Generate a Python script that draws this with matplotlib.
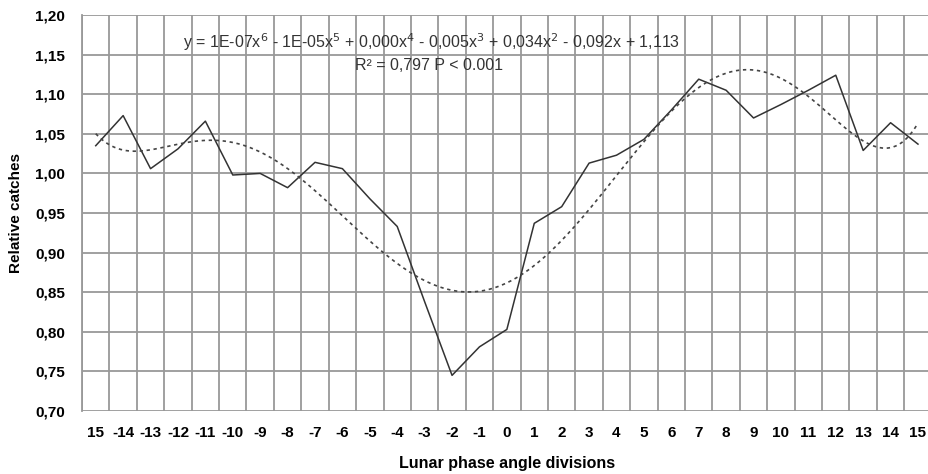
import numpy as np
import matplotlib
matplotlib.use("Agg")
import matplotlib.pyplot as plt

plt.rcParams['font.family'] = ['Liberation Sans', 'DejaVu Sans']

# lunar phase angle divisions (first one is shown as "15" in the original)
labels = ["15"] + [str(v) for v in range(-14, 16)]
catches = [1.035, 1.073, 1.006, 1.031, 1.066, 0.998, 1.000, 0.982, 1.014, 1.006,
           0.968, 0.933, 0.838, 0.745, 0.781, 0.803, 0.937, 0.958, 1.013, 1.023,
           1.043, 1.080, 1.119, 1.105, 1.070, 1.087, 1.105, 1.124, 1.029, 1.064,
           1.037]

eq_text = ("y = 1E-07x$^6$ - 1E-05x$^5$ + 0,000x$^4$ - 0,005x$^3$ + 0,034x$^2$"
           " - 0,092x + 1,113")
r2_text = "R² = 0,797 P < 0.001"

x = np.arange(len(labels))
# 6th order polynomial trendline, like the spreadsheet one (x = 1..31)
coef = np.polyfit(x + 1, catches, 6)
xs = np.linspace(0, len(labels) - 1, 300)
trend = np.polyval(coef, xs + 1)

fig = plt.figure(figsize=(9.29, 4.74), dpi=100)
ax = fig.add_axes([0.0883, 0.1329, 0.9146, 0.8354])

ax.plot(x, catches, color='#333333', lw=1.1, zorder=3)
ax.plot(xs, trend, color='#444444', lw=1.2, ls=(0, (2, 2.2)), zorder=3)

yt = np.arange(0.70, 1.201, 0.05)
ax.set_xlim(-0.5, len(labels) - 0.5)
ax.set_ylim(0.70, 1.20)
ax.set_yticks(yt)
ax.set_yticklabels([f"{v:.2f}".replace('.', ',') for v in yt],
                   fontweight='bold', fontsize=11)
ax.set_xticks(x)
ax.set_xticklabels(labels, fontweight='bold', fontsize=11)
ax.set_xticks(np.arange(-0.5, len(labels), 1), minor=True)
ax.tick_params(axis='both', which='both', length=0)
ax.tick_params(axis='x', pad=11)
ax.tick_params(axis='y', pad=12)

ax.grid(axis='y', which='major', color='#999999', lw=1.3)
ax.grid(axis='x', which='minor', color='#999999', lw=1.3)
ax.set_axisbelow(True)
for s in ax.spines.values():
    s.set_visible(False)
ax.spines['left'].set_visible(True)
ax.spines['left'].set_color('#999999')
ax.spines['left'].set_linewidth(1.3)

ax.set_ylabel("Relative catches", fontweight='bold', fontsize=11, labelpad=9)
ax.set_xlabel("Lunar phase angle divisions", fontweight='bold', fontsize=11.5, labelpad=11)

fig.text(183 / 929, 1 - 48 / 474, eq_text, fontsize=11.5, color='#333333', va='baseline')
fig.text(355 / 929, 1 - 70 / 474, r2_text, fontsize=11.5, color='#333333', va='baseline')

fig.savefig("out.png", dpi=100)
